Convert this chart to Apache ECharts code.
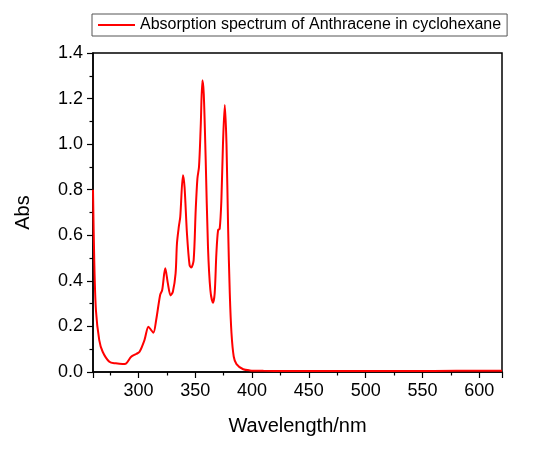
<!DOCTYPE html>
<html>
<head>
	<meta charset="UTF-8">
	<title>Absorption spectrum of Anthracene</title>
	<script src="https://cdn.jsdelivr.net/npm/echarts@6/dist/echarts.min.js"></script>
	<style>
		html, body { margin: 0; padding: 0; background: #fff; }
		#chart { width: 550px; height: 450px; }
	</style>
</head>
<body>
	<div id="chart"></div>
	<script>
		// wavelength (nm) and absorbance
		var wavelength = [260, 261.1, 262.6, 265.5, 268.5, 274.4, 280, 286, 289, 293.6, 298, 301, 305.3, 308.8, 311.2, 313.2, 315.6, 319.1, 320.9, 323.6, 325.9, 328.3, 330.3, 332.7, 333.9, 335.6, 336.8, 339.2, 340.6, 342.7, 345, 346.5, 348.6, 350.4, 351.9, 353.3, 354.8, 356.3, 357.5, 359.2, 361.2, 363.3, 365.6, 367.1, 368.6, 370.1, 371.5, 373, 374.4, 376, 377.5, 378.9, 380.4, 381.9, 383.9, 386.3, 392.2, 398, 410, 430, 460, 500, 540, 580, 620];
		var absorbance = [0.80, 0.49, 0.27, 0.14, 0.089, 0.045, 0.038, 0.035, 0.037, 0.067, 0.079, 0.089, 0.14, 0.199, 0.184, 0.172, 0.228, 0.338, 0.36, 0.455, 0.389, 0.336, 0.352, 0.433, 0.564, 0.64, 0.681, 0.864, 0.81, 0.608, 0.469, 0.459, 0.491, 0.711, 0.849, 0.90, 1.076, 1.28, 1.22, 0.93, 0.55, 0.36, 0.304, 0.345, 0.52, 0.623, 0.628, 0.754, 1.0, 1.172, 1.0, 0.637, 0.345, 0.17, 0.067, 0.035, 0.012, 0.007, 0.005, 0.004, 0.004, 0.004, 0.004, 0.005, 0.005];
		var seriesName = 'Absorption spectrum of Anthracene in cyclohexane';

		var points = wavelength.map(function (w, i) { return [w, absorbance[i]]; });

		var font = '"Liberation Sans", Arial, sans-serif';
		var chart = echarts.init(document.getElementById('chart'));
		chart.setOption({
			animation: false,
			textStyle: { fontFamily: font },
			legend: {
				left: 92,
				top: 14,
				padding: [3, 6, 3, 6],
				itemGap: 5,
				itemWidth: 37,
				itemHeight: 2,
				icon: 'rect',
				borderColor: '#555',
				borderWidth: 1,
				textStyle: { fontFamily: font, fontSize: 16, color: '#000' },
				data: [seriesName]
			},
			grid: {
				left: 93, right: 48, top: 53, bottom: 78,
				show: true,
				borderColor: '#000',
				borderWidth: 1.5
			},
			xAxis: {
				type: 'value',
				min: 260,
				max: 620,
				splitNumber: 7,
				name: 'Wavelength/nm',
				nameLocation: 'middle',
				nameGap: 44,
				nameTextStyle: { fontFamily: font, fontSize: 20, color: '#000' },
				axisLine: { onZero: false, lineStyle: { color: '#000', width: 1.5 } },
				axisTick: { length: 6, lineStyle: { color: '#000', width: 1.2 } },
				minorTick: { show: true, splitNumber: 2, length: 3.5, lineStyle: { color: '#000', width: 1.2 } },
				axisLabel: { fontFamily: font, fontSize: 18, color: '#000', margin: 10, showMinLabel: false, showMaxLabel: false },
				splitLine: { show: false }
			},
			yAxis: {
				type: 'value',
				min: 0,
				max: 1.4,
				interval: 0.2,
				name: 'Abs',
				nameLocation: 'middle',
				nameGap: 60,
				nameTextStyle: { fontFamily: font, fontSize: 20, color: '#000' },
				axisLine: { onZero: false, lineStyle: { color: '#000', width: 1.5 } },
				axisTick: { length: 6, lineStyle: { color: '#000', width: 1.2 } },
				minorTick: { show: true, splitNumber: 2, length: 3.5, lineStyle: { color: '#000', width: 1.2 } },
				axisLabel: {
					fontFamily: font, fontSize: 18, color: '#000', margin: 10,
					formatter: function (v) { return v.toFixed(1); }
				},
				splitLine: { show: false }
			},
			series: [{
				name: seriesName,
				type: 'line',
				data: points,
				smooth: 0.3,
				showSymbol: false,
				symbol: 'none',
				lineStyle: { color: '#ff0000', width: 2 },
				itemStyle: { color: '#ff0000' }
			}]
		});
	</script>
</body>
</html>
